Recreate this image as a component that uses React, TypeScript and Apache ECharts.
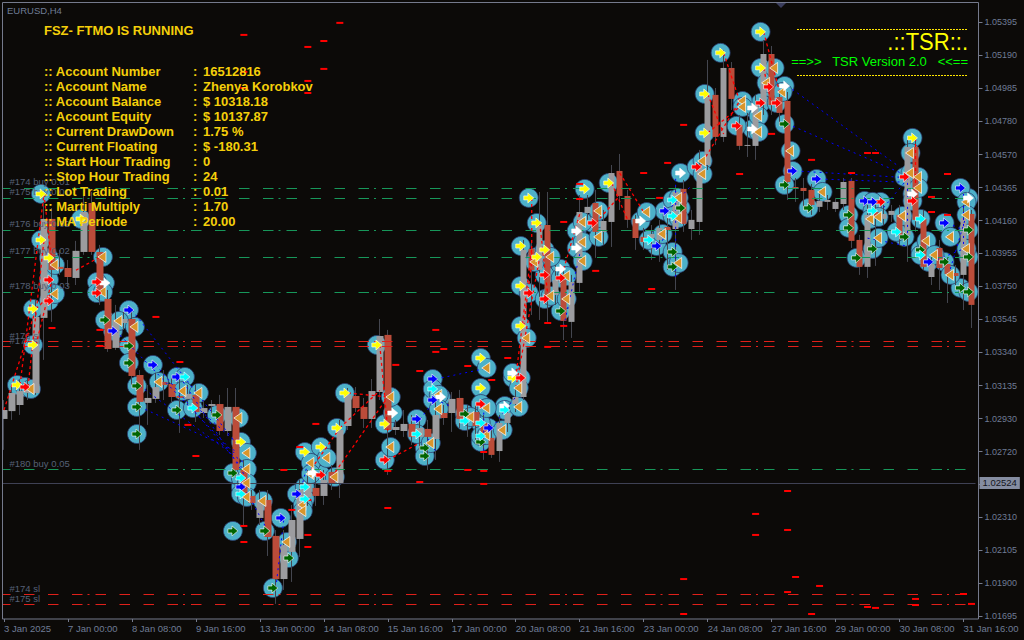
import React, { useEffect, useRef } from "react";
import * as echarts from "echarts";

const xTickLabels = ["3 Jan 2025","7 Jan 00:00","8 Jan 08:00","9 Jan 16:00","13 Jan 00:00","14 Jan 08:00","15 Jan 16:00","17 Jan 00:00","20 Jan 08:00","21 Jan 16:00","23 Jan 00:00","24 Jan 08:00","27 Jan 16:00","29 Jan 00:00","30 Jan 08:00","31 Jan 16:00"];
const yTicks = [1.01695,1.019,1.02105,1.0231,1.02515,1.0272,1.02925,1.0313,1.0334,1.03545,1.0375,1.03955,1.0416,1.04365,1.0457,1.0478,1.04985,1.0519,1.05395];
const yTickLabels = ["1.01695","1.01900","1.02105","1.02310","","1.02720","1.02930","1.03135","1.03340","1.03545","1.03750","1.03955","1.04160","1.04365","1.04570","1.04780","1.04985","1.05190","1.05395"];

const opens = [1.02923,1.02972,1.0301,1.03085,1.03085,1.03553,1.0417,1.03871,1.03864,1.03802,1.03964,1.04269,1.03964,1.03671,1.03366,1.03521,1.03546,1.03197,1.03023,1.03048,1.03154,1.03141,1.03066,1.03048,1.03073,1.0296,1.03004,1.03016,1.02848,1.02998,1.02605,1.02443,1.02306,1.02418,1.02194,1.01925,1.02094,1.02175,1.02437,1.02493,1.02443,1.02593,1.02524,1.02879,1.03066,1.02998,1.02923,1.03091,1.03447,1.02854,1.02848,1.02892,1.02811,1.02861,1.02798,1.0296,1.0296,1.03054,1.02917,1.02966,1.02898,1.02805,1.02723,1.02898,1.03016,1.0306,1.03983,1.03852,1.04132,1.03696,1.0379,1.03528,1.03771,1.04207,1.04269,1.04089,1.04151,1.04469,1.04313,1.0417,1.04058,1.04051,1.04039,1.0412,1.04107,1.04357,1.04107,1.04151,1.04506,1.04943,1.04681,1.05111,1.04756,1.04625,1.04625,1.0488,1.05198,1.0493,1.04905,1.04369,1.04363,1.04351,1.04245,1.04276,1.04232,1.04263,1.04407,1.04039,1.03871,1.04213,1.0417,1.04195,1.04195,1.0407,1.04619,1.0417,1.03808,1.03989,1.03889,1.03833,1.03821,1.04201];
const closes = [1.02979,1.03085,1.03097,1.03135,1.03559,1.0417,1.03852,1.03858,1.03808,1.03971,1.04213,1.03964,1.03715,1.03359,1.0354,1.03546,1.03191,1.03029,1.03054,1.03122,1.03135,1.0306,1.03054,1.03079,1.02966,1.02991,1.03016,1.02848,1.02998,1.02605,1.02437,1.02399,1.02418,1.02187,1.01925,1.02137,1.02293,1.0248,1.02518,1.02443,1.02543,1.02524,1.02854,1.03073,1.02991,1.02923,1.03097,1.0344,1.02854,1.02873,1.02892,1.02811,1.02867,1.02811,1.02948,1.02929,1.03048,1.02923,1.02966,1.02879,1.02836,1.02699,1.02898,1.0296,1.0306,1.03977,1.03852,1.04132,1.03665,1.0379,1.03534,1.03777,1.04213,1.04245,1.04089,1.04157,1.04456,1.04313,1.04164,1.04051,1.04026,1.04076,1.04114,1.04101,1.04338,1.04139,1.04164,1.04506,1.04943,1.04681,1.05111,1.04918,1.04625,1.04631,1.0488,1.05198,1.0488,1.04831,1.044,1.04357,1.04344,1.04257,1.04282,1.04288,1.04276,1.044,1.04033,1.03871,1.04195,1.04176,1.04201,1.0422,1.0407,1.04619,1.04164,1.03871,1.03889,1.03864,1.03827,1.03814,1.04176,1.03634];
const highs = [1.03041,1.03135,1.03166,1.03179,1.03665,1.04276,1.04238,1.03977,1.03914,1.04033,1.04319,1.04338,1.04008,1.03727,1.03634,1.0359,1.03602,1.03228,1.03135,1.0321,1.03228,1.03179,1.03179,1.03135,1.03135,1.03041,1.03041,1.03073,1.03116,1.03116,1.02668,1.0248,1.0248,1.0248,1.02231,1.02231,1.02387,1.02543,1.02605,1.02561,1.02605,1.02636,1.02917,1.03116,1.03122,1.03054,1.03172,1.03546,1.03478,1.02917,1.02979,1.02948,1.02917,1.02917,1.03041,1.0301,1.03091,1.03104,1.0301,1.0301,1.02948,1.02886,1.02948,1.0301,1.03116,1.04039,1.04039,1.04338,1.04338,1.03883,1.03852,1.03821,1.04319,1.04319,1.04351,1.04226,1.04506,1.04575,1.04351,1.04195,1.04114,1.04132,1.04164,1.04176,1.04382,1.04413,1.04226,1.046,1.05161,1.04986,1.05223,1.05148,1.04818,1.04831,1.04943,1.05286,1.05248,1.04974,1.04961,1.04425,1.04425,1.04388,1.04351,1.04319,1.04301,1.04425,1.04425,1.0407,1.04257,1.04257,1.04257,1.04257,1.04257,1.04662,1.04662,1.04226,1.03945,1.04039,1.03927,1.03883,1.04257,1.04226];
const lows = [1.0273,1.02917,1.02948,1.03041,1.03073,1.03291,1.03528,1.03821,1.03746,1.03758,1.03946,1.03946,1.03634,1.03341,1.03353,1.03478,1.03135,1.0273,1.02886,1.03023,1.03041,1.03023,1.02836,1.0301,1.02904,1.02929,1.02948,1.02823,1.02817,1.02555,1.02262,1.02356,1.02262,1.02069,1.0177,1.01857,1.01907,1.02063,1.02381,1.02381,1.02387,1.0248,1.0243,1.02854,1.02966,1.02867,1.02867,1.03041,1.02574,1.02823,1.02811,1.02761,1.0273,1.02605,1.02668,1.02886,1.02842,1.02867,1.02811,1.02792,1.02668,1.0268,1.02655,1.02842,1.02966,1.03041,1.03571,1.0354,1.03528,1.03634,1.03415,1.03428,1.03715,1.04164,1.03927,1.04008,1.03995,1.04226,1.04114,1.03977,1.03977,1.03914,1.03902,1.03852,1.03727,1.04089,1.04039,1.0407,1.04475,1.04631,1.0465,1.04849,1.046,1.04556,1.04538,1.04818,1.04818,1.04756,1.04288,1.04276,1.04245,1.04195,1.04213,1.04226,1.04213,1.04226,1.03989,1.03821,1.03802,1.03877,1.04132,1.04151,1.04008,1.03902,1.04089,1.03852,1.03758,1.03727,1.03646,1.03758,1.03602,1.0349];

const yellowArrows = [[5,1.04326],[5,1.04039],[6,1.03927],[10,1.0417],[4,1.03609],[4,1.03384],[2,1.03135],[42,1.02867],[30,1.0278],[38,1.02717],[40,1.02748],[48,1.02892],[43,1.03085],[47,1.03384],[60,1.03303],[60,1.03116],[64,1.03179],[66,1.04301],[67,1.04145],[65,1.04001],[67,1.03933],[68,1.03977],[65,1.03752],[65,1.03503],[73,1.04357],[76,1.04394],[95,1.05336],[90,1.05205],[88,1.04949],[88,1.04706],[95,1.05111],[114,1.04675]];
const whiteArrows = [[13,1.03771],[39,1.02586],[49,1.0296],[55,1.0306],[64,1.0321],[63,1.03004],[70,1.03858],[72,1.04095],[72,1.03989],[80,1.04157],[85,1.04456],[94,1.04862],[94,1.04731],[98,1.04999],[114,1.04326],[121,1.04301]];
const redArrows = [[6,1.0379],[6,1.03659],[12,1.03777],[12,1.03708],[3,1.03122],[40,1.02574],[48,1.02668],[60,1.03016],[66,1.03708],[65,1.03179],[68,1.03821],[68,1.03671],[70,1.03802],[74,1.04145],[87,1.04494],[92,1.0475],[95,1.04893],[96,1.04993],[97,1.04893],[110,1.04276],[113,1.04432],[114,1.04282]];
const blueArrows = [[16,1.03602],[14,1.03472],[19,1.0326],[22,1.03185],[30,1.02499],[35,1.02306],[37,1.02455],[54,1.03172],[54,1.03041],[52,1.02923],[61,1.02867],[83,1.0422],[82,1.04001],[99,1.04469],[102,1.04419],[108,1.04282],[109,1.04276],[118,1.04145],[120,1.04363],[116,1.03902]];
const greenArrows = [[13,1.0354],[16,1.03378],[16,1.03272],[17,1.03129],[17,1.02998],[17,1.02829],[22,1.02979],[27,1.02948],[29,1.02586],[33,1.02225],[29,1.02225],[34,1.01869],[36,1.02056],[53,1.02742],[53,1.02692],[58,1.02954],[60,1.0278],[70,1.03596],[84,1.03964],[84,1.03871],[85,1.04238],[98,1.04762],[98,1.04382],[101,1.04238],[106,1.04195],[106,1.04114],[113,1.04058],[121,1.04101],[107,1.03927],[109,1.03983],[120,1.0374],[121,1.03715],[121,1.03933],[118,1.03902],[115,1.03977]];
const cyanArrows = [[23,1.03185],[24,1.02991],[30,1.02555],[30,1.02455],[38,1.02499],[38,1.02424],[52,1.02829],[54,1.0311],[58,1.0291],[60,1.02898],[60,1.02817],[63,1.02979],[84,1.04288],[81,1.04039],[84,1.04188],[109,1.0422],[112,1.04089],[115,1.0417],[115,1.03945]];
const orangeTriangles = [[3,1.0311],[6,1.03883],[6,1.03702],[12,1.03933],[12,1.03715],[14,1.03534],[16,1.03497],[19,1.03154],[22,1.03097],[24,1.03085],[29,1.02929],[30,1.02711],[30,1.02611],[30,1.02524],[30,1.02437],[32,1.02412],[35,1.02156],[37,1.02387],[37,1.02349],[38,1.02649],[38,1.0258],[40,1.0268],[41,1.02561],[48,1.02748],[48,1.0306],[53,1.02773],[54,1.03073],[54,1.02985],[60,1.03241],[60,1.02991],[60,1.02823],[58,1.02935],[62,1.02854],[64,1.03116],[64,1.02998],[65,1.03428],[66,1.03902],[68,1.03933],[68,1.0369],[70,1.03814],[70,1.03671],[72,1.04151],[72,1.04026],[72,1.03908],[74,1.0422],[74,1.04058],[80,1.04213],[82,1.04076],[84,1.04301],[84,1.04176],[84,1.03895],[87,1.04531],[87,1.0445],[92,1.04905],[92,1.04868],[94,1.04812],[94,1.04712],[95,1.05018],[96,1.05111],[97,1.04961],[98,1.04594],[102,1.04338],[108,1.0417],[109,1.04182],[112,1.04188],[113,1.04581],[113,1.04456],[114,1.04432],[114,1.04363],[120,1.04276],[120,1.04195],[118,1.04058],[109,1.04051],[115,1.04033],[116,1.03945],[118,1.03821],[120,1.03983]];
const redTicks = [[42,1.05392],[30,1.05317],[38,1.05242],[40,1.05279],[40,1.05105],[30,1.05086],[30,1.04986],[38,1.0503],[38,1.04955],[6,1.0349],[12,1.03478],[12,1.03378],[19,1.03559],[22,1.03278],[23,1.02886],[24,1.02692],[39,1.02892],[37,1.02748],[35,1.02605],[30,1.02256],[30,1.02156],[36,1.02356],[38,1.02418],[38,1.022],[38,1.02125],[48,1.02599],[52,1.0253],[48,1.02368],[58,1.02605],[60,1.02599],[60,1.02518],[60,1.02717],[54,1.03478],[54,1.03341],[55,1.03359],[49,1.0326],[52,1.03222],[58,1.03253],[61,1.03166],[63,1.03303],[68,1.03521],[68,1.03372],[70,1.03503],[74,1.03846],[81,1.03733],[80,1.04456],[70,1.04151],[72,1.04388],[72,1.04294],[82,1.04301],[85,1.04756],[83,1.04519],[92,1.0445],[96,1.047],[101,1.04538],[106,1.04456],[108,1.04581],[109,1.04581],[118,1.0445],[116,1.04307],[116,1.04213],[118,1.04195],[98,1.02474],[94,1.02331],[94,1.022],[98,1.02231],[99,1.01938],[102,1.01882],[98,1.01844],[101,1.01707],[85,1.01925],[85,1.01707],[108,1.01751],[109,1.01745],[114,1.01801],[114,1.01763],[120,1.01832],[121,1.0177]];

const redLinks = [[2,1.03135,5,1.04326],[3,1.03122,5,1.04039],[4,1.03384,6,1.0379],[0,1.02979,4,1.03609],[4,1.03609,6,1.03708],[5,1.04326,6,1.03883],[9,1.0385,12,1.03933],[41,1.02561,48,1.0306],[38,1.0258,42,1.02867],[48,1.02668,52,1.02773],[42,1.02867,47,1.031],[43,1.03085,48,1.0306],[47,1.03384,48,1.0285],[64,1.03179,66,1.03983],[65,1.03503,66,1.03902],[64,1.03116,67,1.03933],[66,1.04301,66,1.03902],[67,1.04145,68,1.037],[70,1.03858,72,1.042],[74,1.04145,77,1.04313],[77,1.04456,80,1.04213],[76,1.04394,78,1.04164],[87,1.04494,92,1.04905],[88,1.04706,92,1.04868],[90,1.05205,92,1.04905],[95,1.05336,97,1.04961],[95,1.05111,96,1.0488],[88,1.04949,90,1.047],[114,1.04675,114,1.0428]];
const blueLinks = [[16,1.03602,29,1.02773],[14,1.03472,29,1.027],[19,1.0326,30,1.02605],[22,1.03185,30,1.0258],[17,1.03129,30,1.0265],[17,1.02998,29,1.02723],[24,1.03,29,1.0278],[30,1.02499,33,1.02225],[34,1.01869,35,1.023],[37,1.02455,38,1.0265],[54,1.03172,60,1.03235],[52,1.02923,54,1.03041],[54,1.03041,56,1.03],[61,1.02867,64,1.0306],[60,1.03,60,1.027],[53,1.028,54,1.0272],[83,1.0422,86,1.0438],[84,1.0442,84,1.038],[70,1.035,72,1.0395],[82,1.04001,83,1.041],[98,1.04999,112,1.04494],[98,1.04762,112,1.0446],[99,1.04469,112,1.0443],[102,1.04419,112,1.044],[110,1.0424,113,1.0442],[108,1.0405,113,1.04],[113,1.04432,113,1.0403],[116,1.03902,120,1.03983],[120,1.04363,120,1.0395],[121,1.043,118,1.038],[118,1.04145,120,1.041]];

const buyLevels = [1.04363,1.04301,1.04101,1.03933,1.03715,1.02611];
const buyLabels = ["#174 buy 0.01","#175 buy 0.01","#176 buy 0.02","#177 buy 0.02","#178 buy 0.03","#180 buy 0.05"];
const slLevels = [1.03405,1.03374,1.0183,1.01767];
const slLabels = ["#176 sl","#177 sl","#174 sl","#175 sl"];
const currentPrice = 1.02524;

const panelLabels = [":: Account Number",":: Account Name",":: Account Balance",":: Account Equity",":: Current DrawDown",":: Current Floating",":: Start Hour Trading",":: Stop Hour Trading",":: Lot Trading",":: Marti Multiply",":: MA Periode"];
const panelValues = ["16512816","Zhenya Korobkov","$ 10318.18","$ 10137.87","1.75 %","$ -180.31","0","24","0.01","1.70","20.00"];

const BG = "#0c0a08", FRAME = "#757a8c", AXIS_TXT = "#6f7c95", GOLD = "#f5cf0a";
const FONT = '"Liberation Sans", Arial, sans-serif';
const ARROW = "path://M0 3H4.5V0L11 5L4.5 10V7H0Z";
const TRI = "path://M0 5L9 0V10Z";
const DASHDOT = [10.5,13.5,10.5,13.5,10.5,13.5,10.5,5,2,6];

const categories = opens.map((_, i) => (i % 8 === 0 ? xTickLabels[i / 8] : String(i)));
const pairs = (links: number[][]) => links.flatMap(([a, b, c, d]) => [[a, b], [c, d], [c, null]]);

const App = () => {
  const ref = useRef<HTMLDivElement>(null);
  useEffect(() => {
    const chart = echarts.init(ref.current!, undefined, { renderer: "svg" });
    const circleStyle = { color: "#4db1c9", borderColor: "#2b3f70", borderWidth: 0.8, opacity: 1 };
    const rightPts = [...yellowArrows, ...whiteArrows, ...redArrows, ...blueArrows, ...greenArrows, ...cyanArrows];
    const circles = (name: string, data: number[][], dx: number) => ({
      name, type: "scatter", data, z: 2, symbol: "circle", symbolSize: 19, symbolOffset: [dx, 0], itemStyle: circleStyle, silent: true,
    });
    const arrows = (name: string, data: number[][], color: string) => ({
      name, type: "scatter", data, z: 8, symbol: ARROW, symbolSize: [10, 10], symbolOffset: [-3, 0],
      itemStyle: { color, borderColor: "#ffffff", borderWidth: 0.6, opacity: 1 }, silent: true,
    });
    const level = (v: number, text: string, color: string, w = 1) => ({
      yAxis: v,
      lineStyle: { color, width: w, type: DASHDOT },
      label: { show: true, formatter: text, position: "insideStartTop", distance: [9.5, 1], color: "#566076", fontSize: 9.5, fontFamily: FONT },
    });
    chart.setOption({
      animation: false,
      backgroundColor: BG,
      grid: { left: -0.5, top: 2.5, width: 976, height: 616.5, containLabel: false },
      xAxis: {
        type: "category", data: categories, boundaryGap: true,
        axisLine: { show: false },
        axisTick: { show: true, alignWithLabel: true, interval: 7, length: 3, lineStyle: { color: FRAME } },
        axisLabel: { show: true, interval: 7, align: "left", margin: 4, color: AXIS_TXT, fontSize: 9.5, fontFamily: FONT, hideOverlap: false },
        splitLine: { show: false },
      },
      yAxis: {
        type: "value", position: "right", offset: 3, min: 1.01676, max: 1.05519, scale: true,
        axisLine: { show: false },
        axisTick: { show: true, length: 4, customValues: yTicks, lineStyle: { color: FRAME } },
        axisLabel: {
          show: true, margin: 6, color: AXIS_TXT, fontSize: 9, fontFamily: FONT, customValues: yTicks,
          formatter: (v: number) => yTickLabels[yTicks.findIndex((t) => Math.abs(t - v) < 1e-7)] ?? "",
        },
        splitLine: { show: false },
      },
      series: [
        {
          name: "levels", type: "line", data: [], z: 1, silent: true,
          markLine: {
            silent: true, symbol: "none", animation: false, precision: 5,
            data: [
              ...buyLevels.map((v, i) => level(v, buyLabels[i], "#17975a")),
              ...slLevels.map((v, i) => level(v, slLabels[i], "#e0201a")),
              {
                yAxis: currentPrice,
                lineStyle: { color: "#3f4154", width: 1, type: "solid" },
                label: {
                  show: true, position: "end", distance: 4, formatter: currentPrice.toFixed(5), color: "#14151c", fontSize: 9.5, fontFamily: FONT,
                  backgroundColor: "#858da1", padding: [1, 3, 1, 3],
                },
              },
            ],
          },
        },
        circles("right circles", rightPts, -3),
        circles("left circles", orangeTriangles, 3),
        {
          name: "wicks", type: "candlestick", z: 3, barWidth: 1, silent: true,
          data: opens.map((o, i) => [o, closes[i], lows[i], highs[i]]),
          itemStyle: { color: "#44464f", color0: "#44464f", borderColor: "#44464f", borderColor0: "#44464f", borderWidth: 1 },
        },
        {
          name: "bodies", type: "candlestick", z: 4, barWidth: 7, silent: true,
          data: opens.map((o, i) => [o, closes[i], Math.min(o, closes[i]), Math.max(o, closes[i])]),
          itemStyle: { color: "#9c9c9f", color0: "#bb4c3a", borderColor: "#9c9c9f", borderColor0: "#bb4c3a", borderWidth: 0 },
        },
        { name: "blue links", type: "line", z: 6, data: pairs(blueLinks), showSymbol: false, connectNulls: false, silent: true, lineStyle: { color: "#0000ff", width: 1, type: [2, 4] } },
        { name: "red links", type: "line", z: 6, data: pairs(redLinks), showSymbol: false, connectNulls: false, silent: true, lineStyle: { color: "#ff0000", width: 1.3, type: [3, 3] } },
        { name: "red ticks", type: "scatter", z: 7, data: redTicks, symbol: "rect", symbolSize: [7, 2], itemStyle: { color: "#ff0000", opacity: 1 }, silent: true },
        { name: "triangles", type: "scatter", z: 8, data: orangeTriangles, symbol: TRI, symbolSize: [8, 11], symbolOffset: [2, 0], itemStyle: { color: "#d9952b", borderColor: "#ffffff", borderWidth: 0.7, opacity: 1 }, silent: true },
        arrows("yellow", yellowArrows, "#ffff00"),
        arrows("white", whiteArrows, "#ffffff"),
        arrows("red", redArrows, "#ff0000"),
        arrows("blue", blueArrows, "#0000ff"),
        arrows("green", greenArrows, "#006400"),
        arrows("cyan", cyanArrows, "#00ffff"),
      ],
      graphic: [
        { type: "rect", z: 50, shape: { x: 0, y: 0, width: 2.5, height: 640 }, style: { fill: BG } },
        { type: "polyline", z: 51, shape: { points: [[2.5, 619], [2.5, 2.5], [978.5, 2.5], [978.5, 619], [2.5, 619]] }, style: { stroke: FRAME, fill: "none", lineWidth: 1 } },
        { type: "polygon", z: 51, shape: { points: [[776, 3], [786, 3], [781, 8]] }, style: { fill: "#3a3d5c" } },
        { type: "text", z: 60, x: 7, y: 5, style: { text: "EURUSD,H4", fill: "#6f7c95", font: `9.5px ${FONT}` } },
        { type: "text", z: 60, x: 44, y: 24, style: { text: "FSZ- FTMO IS RUNNING", fill: GOLD, font: `bold 13px ${FONT}` } },
        ...panelLabels.map((t, i) => ({ type: "text", z: 60, x: 44, y: 64.5 + i * 15, style: { text: t, fill: GOLD, font: `bold 13px ${FONT}` } })),
        ...panelLabels.map((_, i) => ({ type: "text", z: 60, x: 193, y: 64.5 + i * 15, style: { text: ":", fill: GOLD, font: `bold 13px ${FONT}` } })),
        ...panelValues.map((t, i) => ({ type: "text", z: 60, x: 203, y: 64.5 + i * 15, style: { text: t, fill: GOLD, font: `bold 13px ${FONT}` } })),
        { type: "line", z: 60, shape: { x1: 797, y1: 29.5, x2: 968, y2: 29.5 }, style: { stroke: "#ffe600", lineWidth: 1, lineDash: [2, 1] } },
        { type: "line", z: 60, shape: { x1: 797, y1: 75.5, x2: 968, y2: 75.5 }, style: { stroke: "#ffe600", lineWidth: 1, lineDash: [2, 1] } },
        { type: "text", z: 60, x: 968, y: 33, scaleY: 1.12, originX: 968, originY: 33, style: { text: ".::TSR::.", fill: "#ffff00", font: `22px ${FONT}`, textAlign: "right" } },
        { type: "text", z: 60, x: 968, y: 54.5, style: { text: "==>>   TSR Version 2.0   <<==", fill: "#00ff00", font: `13px ${FONT}`, textAlign: "right" } },
      ],
    });
    return () => chart.dispose();
  }, []);
  return <div ref={ref} style={{ position: "fixed", left: 0, top: 0, width: 1024, height: 640, background: BG }} />;
};

export default App;
